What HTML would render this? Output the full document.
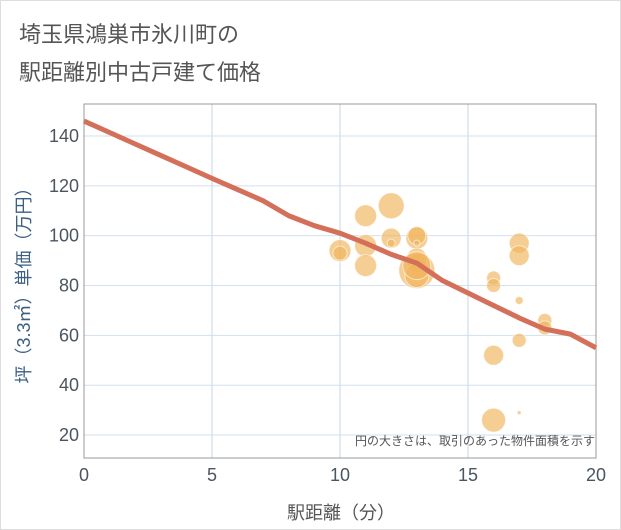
<!DOCTYPE html>
<html><head><meta charset="utf-8"><style>
body{margin:0;background:#fff;}
#wrap{position:relative;width:619px;height:528px;border:1px solid #ddd;font-family:"Liberation Sans","Noto Sans CJK JP",sans-serif;}
.t{position:absolute;left:18px;font-size:22px;color:#555;}
</style></head><body>
<div id="wrap">
<div class="t" style="top:16px">埼玉県鴻巣市氷川町の</div>
<div class="t" style="top:54px">駅距離別中古戸建て価格</div>
<svg id="chart" width="619" height="528" style="position:absolute;left:0;top:0"></svg>
</div>
<script>
const xTicks=[0,5,10,15,20];
const yTicks=[20,40,60,80,100,120,140];
const lineX=[0,1,2,3,4,5,6,7,8,9,10,11,12,13,14,15,16,17,18,19,20];
const lineY=[146,141.4,136.8,132.2,127.6,123,118.5,114,108,104,101,97,92.5,89,82,77,72,67,62.5,60.5,55];
const bubX=[10,10,11,11,11,12,12,12,13,13,13,13,13,13,13,13,16,16,16,16,16,17,17,17,17,17,18,18];
const bubY=[94,93,108,96,88,112,99,97,99,100,97,91,89,86,84,88,83,80,72,52,26,97,92,74,58,29,66,63];
const bubR=[11,7,11,11,11,13,10,4,11,9,3,10,9,18,12,14,7,7,3,10,12,10,10,4,7,2,7,7];
const L=83,R=595,T=103,B=457;
const sx=v=>L+(v-0)/20*(R-L);
const sy=v=>135+(140-v)*2.492;
const svg=document.getElementById('chart');
const NS='http://www.w3.org/2000/svg';
function mk(t,a){const e=document.createElementNS(NS,t);for(const k in a)e.setAttribute(k,a[k]);svg.appendChild(e);return e;}
xTicks.forEach(v=>{
 const g=mk('line',{x1:sx(v),x2:sx(v),y1:T,y2:B,stroke:'#c4d4e6','stroke-width':1});
 
 
 const t=mk('text',{x:sx(v),y:480,'text-anchor':'middle','font-size':18,fill:'#4a5560'});
 t.textContent=v;
 
 
});
yTicks.forEach(v=>{
 const g=mk('line',{x1:L,x2:R,y1:sy(v),y2:sy(v),stroke:'#d2e0ee','stroke-width':1});
 
 
 const t=mk('text',{x:78,y:sy(v)+6,'text-anchor':'end','font-size':18,fill:'#4a5560'});
 t.textContent=v;
 
 
});
const fr=mk('rect',{x:L,y:T,width:R-L,height:B-T,fill:'none',stroke:'#999','stroke-width':1});


bubX.forEach((x,i)=>{
 const c=mk('circle',{cx:sx(x),cy:sy(bubY[i]),r:bubR[i],fill:'rgba(240,180,90,0.65)',stroke:'rgba(255,255,255,0.6)','stroke-width':1});
 
 
});
const p=mk('polyline',{points:lineX.map((x,i)=>sx(x)+','+sy(lineY[i])).join(' '),fill:'none',stroke:'#d4705a','stroke-width':5,'stroke-linejoin':'round'});


const n=mk('text',{x:594,y:444,'text-anchor':'end','font-size':12,fill:'#555'});
n.textContent='円の大きさは、取引のあった物件面積を示す';


const xt=mk('text',{x:340,y:518,'text-anchor':'middle','font-size':18,fill:'#555'});
xt.textContent='駅距離（分）';


const yt=mk('text',{x:0,y:0,'text-anchor':'middle','font-size':18,fill:'#3d5f80',transform:'translate(29,280) rotate(-90)'});
yt.textContent='坪（3.3㎡）単価（万円）';


</script>
</body></html>
